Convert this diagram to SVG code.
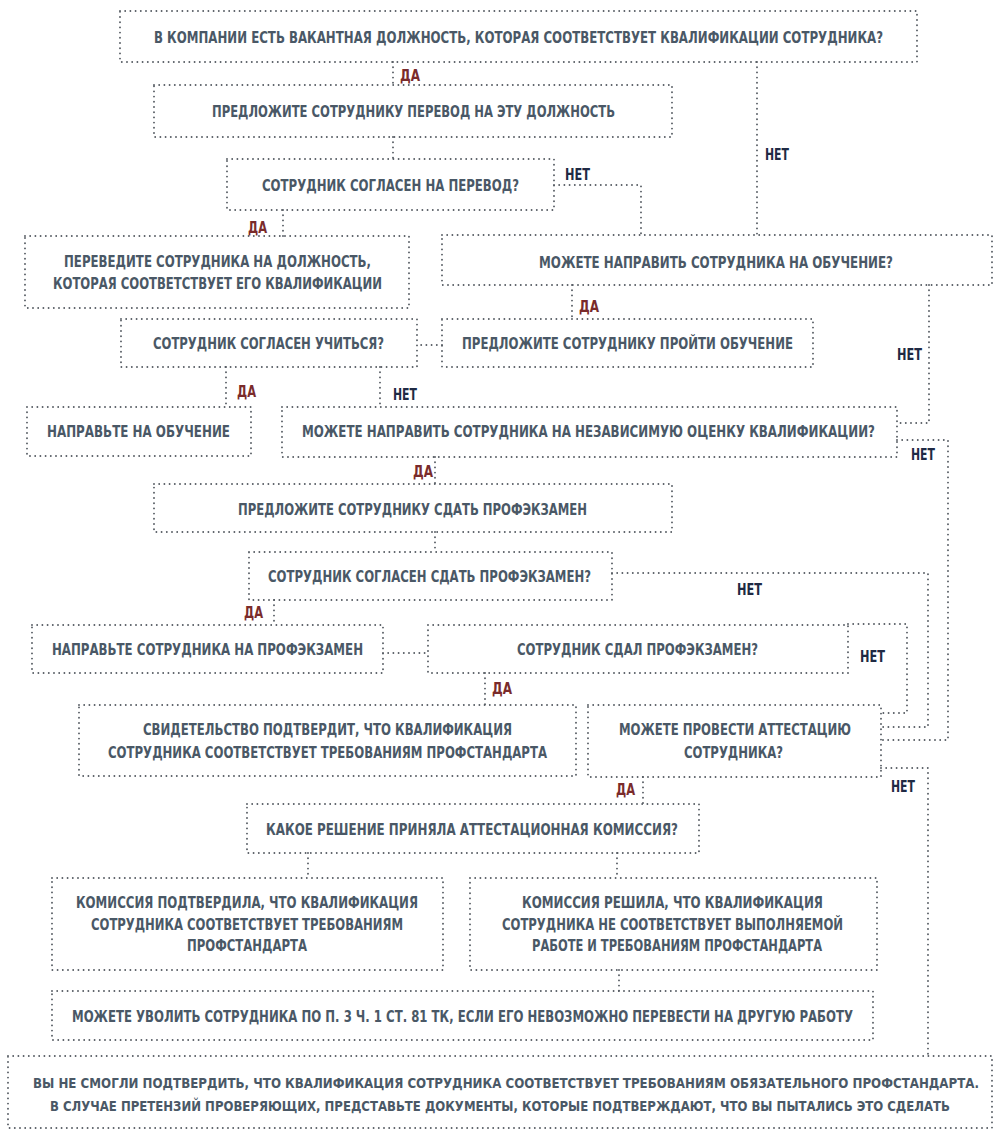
<svg xmlns="http://www.w3.org/2000/svg" width="1000" height="1139" viewBox="0 0 1000 1139">
<style>
.b{fill:none;stroke:#555b62;stroke-width:1.9;stroke-dasharray:0 5.2;stroke-linecap:round}
.c{fill:none;stroke:#555b62;stroke-width:1.9;stroke-dasharray:0 5.2;stroke-linecap:round}
text{font-family:"DejaVu Sans Condensed","Liberation Sans Narrow","Liberation Sans",sans-serif;font-weight:bold;font-size:15.5px}
.t{fill:#4a5866}
.s15{font-size:15px}
.s13{font-size:13px}
.da{fill:#7a2b2b}
.net{fill:#1f2a44}
</style>
<rect width="1000" height="1139" fill="#ffffff"/>
<g id="connectors">
<path class="c" d="M393 62V85"/>
<path class="c" d="M393 137V159"/>
<path class="c" d="M757 62V235"/>
<path class="c" d="M554 185H641V235"/>
<path class="c" d="M283 210V236"/>
<path class="c" d="M572 285V319"/>
<path class="c" d="M442 345H417"/>
<path class="c" d="M226 367V407"/>
<path class="c" d="M380 367V407"/>
<path class="c" d="M929 285V423H897"/>
<path class="c" d="M897 440H948V740H881"/>
<path class="c" d="M435 457V484"/>
<path class="c" d="M435 532V552"/>
<path class="c" d="M612 573H928V727H881"/>
<path class="c" d="M274 600V625"/>
<path class="c" d="M383 653H428"/>
<path class="c" d="M848 624H907V713H881"/>
<path class="c" d="M485 673V705"/>
<path class="c" d="M643 777V804"/>
<path class="c" d="M881 768H928V1056"/>
<path class="c" d="M308 853V878"/>
<path class="c" d="M617 853V878"/>
<path class="c" d="M619 970V991"/>
<text class="da" x="400" y="81" textLength="20" lengthAdjust="spacingAndGlyphs">ДА</text>
<text class="da" x="248" y="233" textLength="19" lengthAdjust="spacingAndGlyphs">ДА</text>
<text class="net" x="565" y="180" textLength="25" lengthAdjust="spacingAndGlyphs">НЕТ</text>
<text class="net" x="765" y="160" textLength="24" lengthAdjust="spacingAndGlyphs">НЕТ</text>
<text class="da" x="579" y="312" textLength="20" lengthAdjust="spacingAndGlyphs">ДА</text>
<text class="net" x="897" y="360" textLength="25" lengthAdjust="spacingAndGlyphs">НЕТ</text>
<text class="da" x="237" y="397" textLength="19" lengthAdjust="spacingAndGlyphs">ДА</text>
<text class="net" x="393" y="400" textLength="24" lengthAdjust="spacingAndGlyphs">НЕТ</text>
<text class="net" x="911" y="460" textLength="24" lengthAdjust="spacingAndGlyphs">НЕТ</text>
<text class="da" x="413" y="477" textLength="20" lengthAdjust="spacingAndGlyphs">ДА</text>
<text class="net" x="737" y="595" textLength="25" lengthAdjust="spacingAndGlyphs">НЕТ</text>
<text class="da" x="244" y="618" textLength="19" lengthAdjust="spacingAndGlyphs">ДА</text>
<text class="net" x="860" y="662" textLength="25" lengthAdjust="spacingAndGlyphs">НЕТ</text>
<text class="da" x="492" y="694" textLength="20" lengthAdjust="spacingAndGlyphs">ДА</text>
<text class="net" x="891" y="792" textLength="24" lengthAdjust="spacingAndGlyphs">НЕТ</text>
<text class="da" x="616" y="795" textLength="19" lengthAdjust="spacingAndGlyphs">ДА</text>
</g>
<g id="n1"><rect class="b" x="120" y="11" width="797" height="51"/>
<text class="t s15" x="154" y="43" textLength="729" lengthAdjust="spacingAndGlyphs">В КОМПАНИИ ЕСТЬ ВАКАНТНАЯ ДОЛЖНОСТЬ, КОТОРАЯ СООТВЕТСТВУЕТ КВАЛИФИКАЦИИ СОТРУДНИКА?</text></g>
<g id="n2"><rect class="b" x="154" y="85" width="518" height="52"/>
<text class="t" x="212" y="117" textLength="403" lengthAdjust="spacingAndGlyphs">ПРЕДЛОЖИТЕ СОТРУДНИКУ ПЕРЕВОД НА ЭТУ ДОЛЖНОСТЬ</text></g>
<g id="n3"><rect class="b" x="227" y="159" width="327" height="51"/>
<text class="t" x="262" y="191" textLength="257" lengthAdjust="spacingAndGlyphs">СОТРУДНИК СОГЛАСЕН НА ПЕРЕВОД?</text></g>
<g id="n4"><rect class="b" x="25" y="236" width="384" height="72"/>
<text class="t" x="64" y="267" textLength="307" lengthAdjust="spacingAndGlyphs">ПЕРЕВЕДИТЕ СОТРУДНИКА НА ДОЛЖНОСТЬ,</text>
<text class="t" x="53" y="289" textLength="329" lengthAdjust="spacingAndGlyphs">КОТОРАЯ СООТВЕТСТВУЕТ ЕГО КВАЛИФИКАЦИИ</text></g>
<g id="n5"><rect class="b" x="442" y="235" width="550" height="50"/>
<text class="t" x="539" y="268" textLength="354" lengthAdjust="spacingAndGlyphs">МОЖЕТЕ НАПРАВИТЬ СОТРУДНИКА НА ОБУЧЕНИЕ?</text></g>
<g id="n6"><rect class="b" x="121" y="319" width="296" height="48"/>
<text class="t" x="153" y="349" textLength="231" lengthAdjust="spacingAndGlyphs">СОТРУДНИК СОГЛАСЕН УЧИТЬСЯ?</text></g>
<g id="n7"><rect class="b" x="442" y="319" width="371" height="48"/>
<text class="t" x="462" y="349" textLength="331" lengthAdjust="spacingAndGlyphs">ПРЕДЛОЖИТЕ СОТРУДНИКУ ПРОЙТИ ОБУЧЕНИЕ</text></g>
<g id="n8"><rect class="b" x="27" y="407" width="224" height="49"/>
<text class="t" x="47" y="437" textLength="183" lengthAdjust="spacingAndGlyphs">НАПРАВЬТЕ НА ОБУЧЕНИЕ</text></g>
<g id="n9"><rect class="b" x="282" y="407" width="615" height="50"/>
<text class="t" x="302" y="437" textLength="573" lengthAdjust="spacingAndGlyphs">МОЖЕТЕ НАПРАВИТЬ СОТРУДНИКА НА НЕЗАВИСИМУЮ ОЦЕНКУ КВАЛИФИКАЦИИ?</text></g>
<g id="n10"><rect class="b" x="154" y="484" width="518" height="48"/>
<text class="t" x="238" y="515" textLength="349" lengthAdjust="spacingAndGlyphs">ПРЕДЛОЖИТЕ СОТРУДНИКУ СДАТЬ ПРОФЭКЗАМЕН</text></g>
<g id="n11"><rect class="b" x="249" y="552" width="363" height="48"/>
<text class="t" x="268" y="582" textLength="323" lengthAdjust="spacingAndGlyphs">СОТРУДНИК СОГЛАСЕН СДАТЬ ПРОФЭКЗАМЕН?</text></g>
<g id="n12"><rect class="b" x="32" y="625" width="351" height="48"/>
<text class="t" x="52" y="655" textLength="311" lengthAdjust="spacingAndGlyphs">НАПРАВЬТЕ СОТРУДНИКА НА ПРОФЭКЗАМЕН</text></g>
<g id="n13"><rect class="b" x="428" y="625" width="420" height="48"/>
<text class="t" x="517" y="655" textLength="241" lengthAdjust="spacingAndGlyphs">СОТРУДНИК СДАЛ ПРОФЭКЗАМЕН?</text></g>
<g id="n14"><rect class="b" x="79" y="705" width="497" height="71"/>
<text class="t" x="143" y="735" textLength="369" lengthAdjust="spacingAndGlyphs">СВИДЕТЕЛЬСТВО ПОДТВЕРДИТ, ЧТО КВАЛИФИКАЦИЯ</text>
<text class="t" x="108" y="758" textLength="439" lengthAdjust="spacingAndGlyphs">СОТРУДНИКА СООТВЕТСТВУЕТ ТРЕБОВАНИЯМ ПРОФСТАНДАРТА</text></g>
<g id="n15"><rect class="b" x="588" y="705" width="293" height="72"/>
<text class="t" x="619" y="735" textLength="232" lengthAdjust="spacingAndGlyphs">МОЖЕТЕ ПРОВЕСТИ АТТЕСТАЦИЮ</text>
<text class="t" x="684" y="758" textLength="99" lengthAdjust="spacingAndGlyphs">СОТРУДНИКА?</text></g>
<g id="n16"><rect class="b" x="247" y="804" width="452" height="49"/>
<text class="t" x="266" y="835" textLength="412" lengthAdjust="spacingAndGlyphs">КАКОЕ РЕШЕНИЕ ПРИНЯЛА АТТЕСТАЦИОННАЯ КОМИССИЯ?</text></g>
<g id="n17"><rect class="b" x="52" y="878" width="391" height="92"/>
<text class="t" x="76" y="908" textLength="342" lengthAdjust="spacingAndGlyphs">КОМИССИЯ ПОДТВЕРДИЛА, ЧТО КВАЛИФИКАЦИЯ</text>
<text class="t" x="91" y="930" textLength="312" lengthAdjust="spacingAndGlyphs">СОТРУДНИКА СООТВЕТСТВУЕТ ТРЕБОВАНИЯМ</text>
<text class="t" x="187" y="951" textLength="120" lengthAdjust="spacingAndGlyphs">ПРОФСТАНДАРТА</text></g>
<g id="n18"><rect class="b" x="470" y="878" width="407" height="92"/>
<text class="t" x="522" y="908" textLength="301" lengthAdjust="spacingAndGlyphs">КОМИССИЯ РЕШИЛА, ЧТО КВАЛИФИКАЦИЯ</text>
<text class="t" x="502" y="930" textLength="341" lengthAdjust="spacingAndGlyphs">СОТРУДНИКА НЕ СООТВЕТСТВУЕТ ВЫПОЛНЯЕМОЙ</text>
<text class="t" x="532" y="951" textLength="290" lengthAdjust="spacingAndGlyphs">РАБОТЕ И ТРЕБОВАНИЯМ ПРОФСТАНДАРТА</text></g>
<g id="n19"><rect class="b" x="52" y="991" width="821" height="49"/>
<text class="t" x="72" y="1022" textLength="781" lengthAdjust="spacingAndGlyphs">МОЖЕТЕ УВОЛИТЬ СОТРУДНИКА ПО П. 3 Ч. 1 СТ. 81 ТК, ЕСЛИ ЕГО НЕВОЗМОЖНО ПЕРЕВЕСТИ НА ДРУГУЮ РАБОТУ</text></g>
<g id="n20"><rect class="b" x="8" y="1056" width="984" height="72"/>
<text class="t s13" x="33" y="1088" textLength="946" lengthAdjust="spacingAndGlyphs" transform="translate(0 1088) scale(1 1.12) translate(0 -1088)">ВЫ НЕ СМОГЛИ ПОДТВЕРДИТЬ, ЧТО КВАЛИФИКАЦИЯ СОТРУДНИКА СООТВЕТСТВУЕТ ТРЕБОВАНИЯМ ОБЯЗАТЕЛЬНОГО ПРОФСТАНДАРТА.</text>
<text class="t s13" x="50" y="1111" textLength="900" lengthAdjust="spacingAndGlyphs" transform="translate(0 1111) scale(1 1.12) translate(0 -1111)">В СЛУЧАЕ ПРЕТЕНЗИЙ ПРОВЕРЯЮЩИХ, ПРЕДСТАВЬТЕ ДОКУМЕНТЫ, КОТОРЫЕ ПОДТВЕРЖДАЮТ, ЧТО ВЫ ПЫТАЛИСЬ ЭТО СДЕЛАТЬ</text></g>
</svg>
